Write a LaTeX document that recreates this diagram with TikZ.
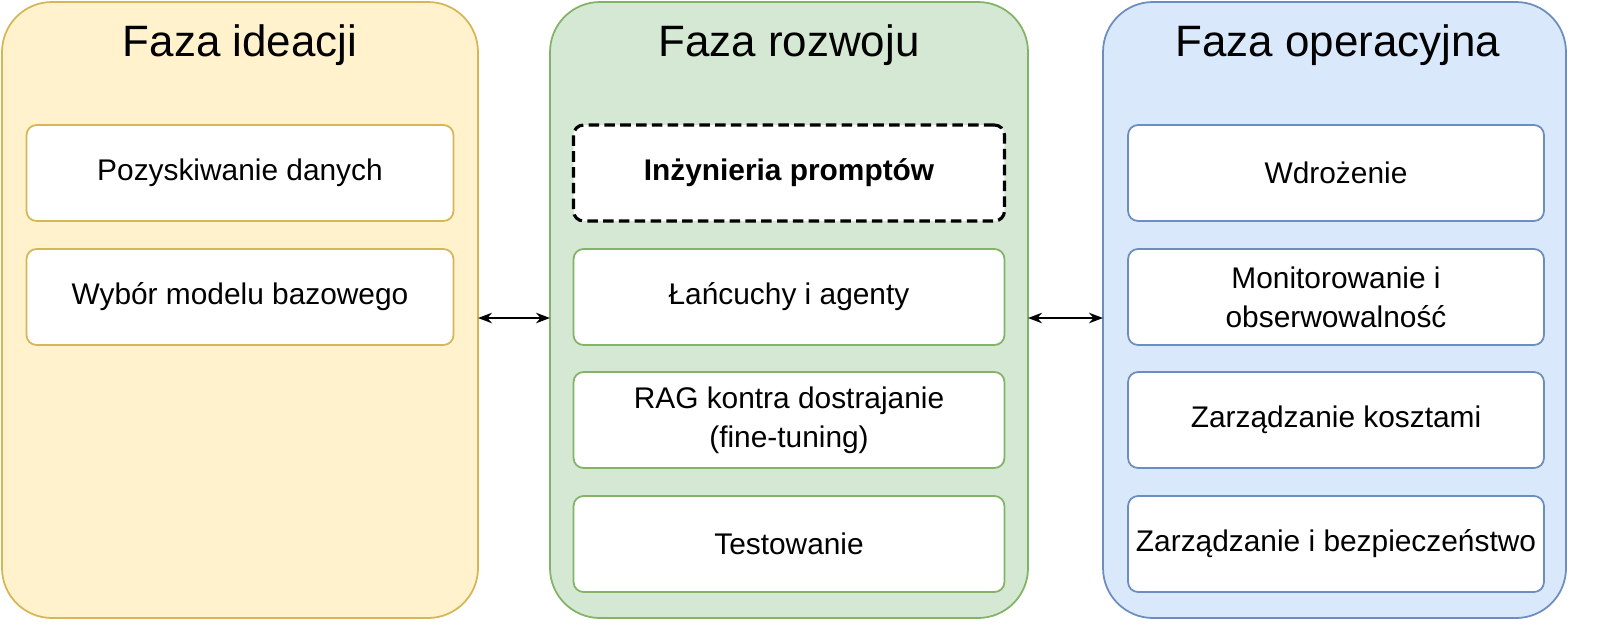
\documentclass[tikz,border=0pt]{standalone}
\usepackage{fontspec}
\setmainfont{Liberation Sans}
\usetikzlibrary{arrows.meta}
\definecolor{yfill}{HTML}{FFF2CC}\definecolor{ydraw}{HTML}{D6B656}
\definecolor{gfill}{HTML}{D5E8D4}\definecolor{gdraw}{HTML}{82B366}
\definecolor{bfill}{HTML}{DAE8FC}\definecolor{bdraw}{HTML}{6C8EBF}
\tikzset{
  phase/.style={draw=#1, line width=1pt, rounded corners=1cm},
  title/.style={font=\fontsize{25}{30}\selectfont},
  step/.style={draw=#1, fill=white, line width=1pt, rounded corners=0.2cm,
    minimum height=1.92cm, align=center, font=\fontsize{17}{22}\selectfont},
  link/.style={{Stealth[length=8pt]}-{Stealth[length=8pt]}, line width=1pt}
}
\begin{document}
\begin{tikzpicture}[x=0.02cm, y=-0.02cm]
  \useasboundingbox (0,0) rectangle (1621,640);

  \draw[phase=ydraw, fill=yfill] (2,2) rectangle (478,618);
  \draw[phase=gdraw, fill=gfill] (550,2) rectangle (1028,618);
  \draw[phase=bdraw, fill=bfill] (1103,2) rectangle (1566,618);
  \coordinate (yr) at (478,318);
  \coordinate (gl) at (550,318);
  \coordinate (gr) at (1028,318);
  \coordinate (bl) at (1103,318);

  \node[title] (t1) at (240,45) {Faza ideacji};
  \node[title] (t2) at (789,45) {Faza rozwoju};
  \node[title] (t3) at (1338,45) {Faza operacyjna};

  % ideacja
  \node[step=ydraw, minimum width=8.54cm] (pozysk) at (240,173) {Pozyskiwanie danych};
  \node[step=ydraw, minimum width=8.54cm] (wybor) at (240,297) {Wybór modelu bazowego};

  % rozwoj
  \node[step=black, dash pattern=on 6pt off 3pt, line width=1.8pt, minimum width=8.62cm, font=\fontsize{17}{22}\selectfont\bfseries] (prompt) at (789,173) {Inżynieria promptów};
  \node[step=gdraw, minimum width=8.62cm] (lanc) at (789,297) {Łańcuchy i agenty};
  \node[step=gdraw, minimum width=8.62cm] (rag) at (789,420) {RAG kontra dostrajanie\\(fine-tuning)};
  \node[step=gdraw, minimum width=8.62cm] (test) at (789,544) {Testowanie};

  % operacyjna
  \node[step=bdraw, minimum width=8.32cm] (wdroz) at (1336,173) {Wdrożenie};
  \node[step=bdraw, minimum width=8.32cm] (monit) at (1336,297) {Monitorowanie i\\obserwowalność};
  \node[step=bdraw, minimum width=8.32cm] (koszt) at (1336,420) {Zarządzanie kosztami};
  \node[step=bdraw, minimum width=8.32cm] (bezp) at (1336,544) {Zarządzanie i bezpieczeństwo};

  \draw[link] (yr) -- (gl);
  \draw[link] (gr) -- (bl);
\end{tikzpicture}
\end{document}
